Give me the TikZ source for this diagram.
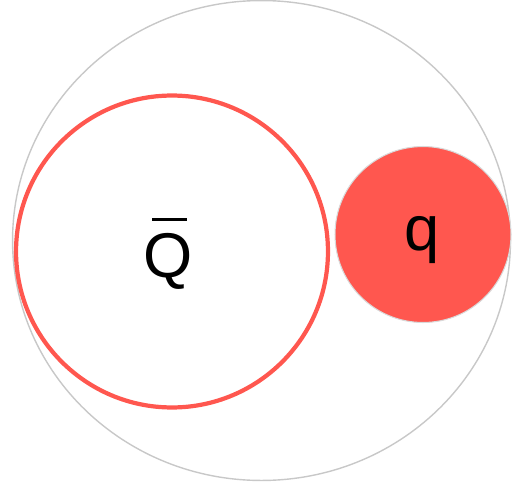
\documentclass[tikz,border=0pt]{standalone}
\usepackage{fontspec}
\setmainfont{Liberation Sans}
\usetikzlibrary{shapes.geometric}
\definecolor{qred}{HTML}{FF574F}
\definecolor{rimgrey}{HTML}{C8C8C8}
\newcommand{\barQ}{\rlap{\hspace{5pt}\rule[32pt]{20pt}{1.8pt}}Q}
\begin{document}
\begin{tikzpicture}[x=0.02cm,y=-0.02cm]
\useasboundingbox(0,0)rectangle(523,483);
\node[ellipse,draw=rimgrey,line width=0.8pt,inner sep=0pt,minimum width=9.96cm,minimum height=9.6cm](hadron)at(261.5,240.5){};%外側
\node[circle,draw=qred,line width=2.4pt,inner sep=0pt,minimum size=6.24cm](antiq)at(172,251.5){};%反クォーク
\node[circle,fill=qred,draw=black!15,line width=0.6pt,inner sep=0pt,minimum size=3.52cm](quark)at(423,234.5){};%クォーク
\node[anchor=base,font=\fontsize{36}{40}\selectfont,inner sep=0pt](antiqlabel)at(168,277){\barQ};
\node[anchor=base,font=\fontsize{36}{40}\selectfont,inner sep=0pt](quarklabel)at(422,250){q};
\end{tikzpicture}
\end{document}
